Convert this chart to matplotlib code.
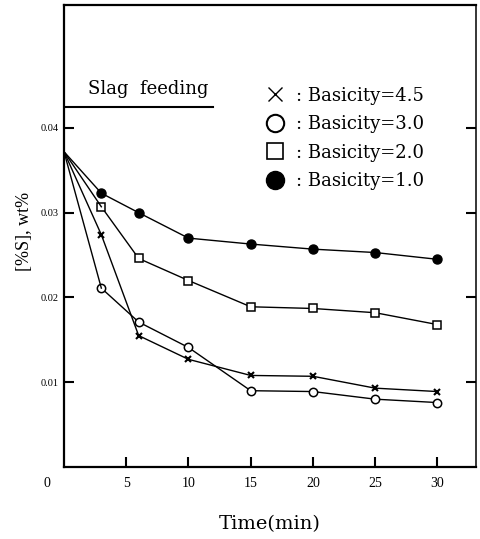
import matplotlib
matplotlib.use("Agg")
import matplotlib.pyplot as plt

plt.rcParams["font.family"] = ["Liberation Serif", "DejaVu Serif"]

# data
time = [0, 3, 6, 10, 15, 20, 25, 30]
s_b45 = [0.0372, 0.0274, 0.0155, 0.0127, 0.0108, 0.0107, 0.0093, 0.0089]
s_b30 = [0.0372, 0.0211, 0.0171, 0.0141, 0.0090, 0.0089, 0.0080, 0.0076]
s_b20 = [0.0372, 0.0307, 0.0246, 0.0220, 0.0189, 0.0187, 0.0182, 0.0168]
s_b10 = [0.0372, 0.0323, 0.0300, 0.0270, 0.0263, 0.0257, 0.0253, 0.0245]

xticks = [5, 10, 15, 20, 25, 30]
yticks = [0.01, 0.02, 0.03, 0.04]
ytick_labels = ["0.01", "0.02", "0.03", "0.04"]

slag_end = 12
slag_level = 0.0425

fig = plt.figure(figsize=(4.8, 5.39), dpi=100)
ax = fig.add_axes([0.1333, 0.1336, 0.8584, 0.8571])

series = [
    (s_b45, dict(marker="x", ms=5, mew=1.5, mfc="none"),
     dict(marker="x", ms=10, mew=1.0, mfc="none"), ": Basicity=4.5"),
    (s_b30, dict(marker="o", ms=6, mew=1.1, mfc="white"),
     dict(marker="o", ms=12.5, mew=1.5, mfc="white"), ": Basicity=3.0"),
    (s_b20, dict(marker="s", ms=6, mew=1.1, mfc="white"),
     dict(marker="s", ms=11, mew=1.2, mfc="white"), ": Basicity=2.0"),
    (s_b10, dict(marker="o", ms=6.5, mew=1.0, mfc="black"),
     dict(marker="o", ms=13, mew=1.0, mfc="black"), ": Basicity=1.0"),
]
handles = []
for ys, mk, legmk, lab in series:
    ax.plot(time[1:], ys[1:], color="black", lw=1.0, mec="black", **mk)
    # lines from the common starting point
    ax.plot(time[:2], ys[:2], color="black", lw=1.0)
    h, = ax.plot([], [], ls="none", color="black", mec="black", label=lab, **legmk)
    handles.append(h)

ax.plot([0, slag_end], [slag_level, slag_level], color="black", lw=1.5)
ax.text(6.8, 0.0446, "Slag  feeding", ha="center", va="center", fontsize=13,
        family="DejaVu Serif")

ax.legend(handles=handles, loc="upper left", bbox_to_anchor=(0.468, 0.843),
          frameon=False, prop={"family": "DejaVu Serif", "size": 13},
          handlelength=1.0, handletextpad=0.65, labelspacing=0.58, borderpad=0)

ax.set_xlim(0, 33.1)
ax.set_ylim(0, 0.0545)
ax.set_xticks(xticks)
ax.set_xticklabels([str(t) for t in xticks], fontsize=10)
ax.set_yticks(yticks)
ax.set_yticklabels(ytick_labels, fontsize=7.5)
ax.tick_params(direction="in", length=7, width=1.5, right=True, top=False)
ax.tick_params(axis="x", pad=7)
ax.tick_params(axis="y", pad=4)
for side in ax.spines:
    ax.spines[side].set_linewidth(1.6)
ax.spines["right"].set_linewidth(1.1)

ax.annotate("0", xy=(0, 0), xytext=(-12, -12), textcoords="offset points",
            ha="center", va="center", fontsize=10)

ax.set_xlabel("Time(min)", fontsize=14, labelpad=18, family="DejaVu Serif")
ax.set_ylabel("[%S], wt%", fontsize=13)
ax.yaxis.set_label_coords(-0.075, 0.51)

fig.savefig("out.png", dpi=100)
